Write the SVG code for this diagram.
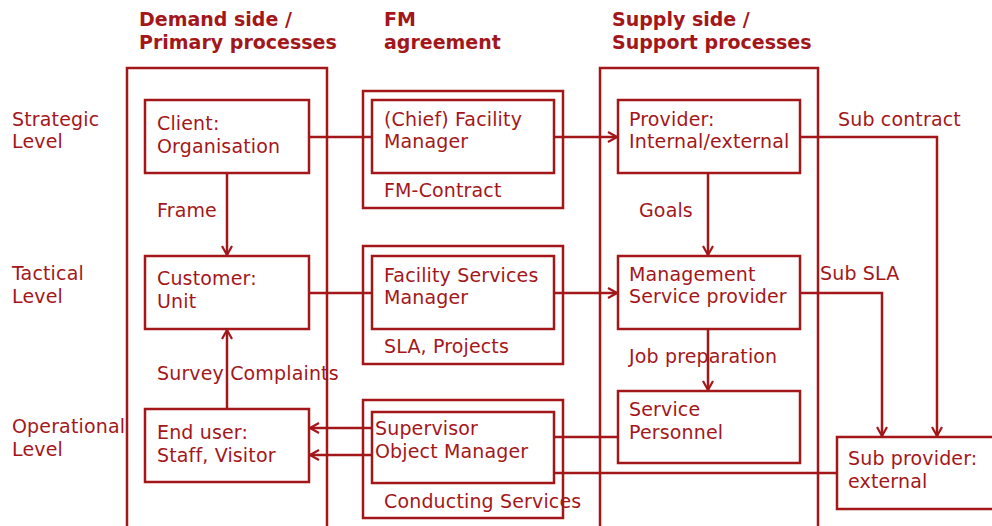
<svg xmlns="http://www.w3.org/2000/svg" width="992" height="526" viewBox="0 0 992 526">
<defs>
<style>
.b{fill:none;stroke:#a3171b;stroke-width:2.5}
.l{fill:none;stroke:#a3171b;stroke-width:2.5}
text{font-family:"DejaVu Sans",Verdana,sans-serif;font-size:19px;letter-spacing:0.15px;fill:#a3171b}
.h{font-weight:bold;font-size:19px;letter-spacing:0px}
</style>
<marker id="a" viewBox="0 0 12 12" refX="11" refY="6" markerWidth="12" markerHeight="12" markerUnits="userSpaceOnUse" orient="auto">
<path d="M2,1 L11,6 L2,11" fill="none" stroke="#a3171b" stroke-width="2.2"/>
</marker>
</defs>
<rect width="992" height="526" fill="#fff"/>
<g id="headers">
<text class="h" x="139" y="26">Demand side /</text>
<text class="h" x="139" y="49">Primary processes</text>
<text class="h" x="384" y="26">FM</text>
<text class="h" x="384" y="49">agreement</text>
<text class="h" x="612" y="26">Supply side /</text>
<text class="h" x="612" y="49">Support processes</text>
</g>
<g id="levels">
<text x="12" y="126">Strategic</text>
<text x="12" y="148">Level</text>
<text x="12" y="280">Tactical</text>
<text x="12" y="303">Level</text>
<text x="12" y="433">Operational</text>
<text x="12" y="456">Level</text>
</g>
<g id="demand-frame"><rect class="b" x="127" y="68" width="200" height="470"/></g>
<g id="supply-frame"><rect class="b" x="600" y="68" width="218" height="470"/></g>
<g id="fm-contract"><rect class="b" x="363" y="91" width="200" height="117"/><text x="384" y="197">FM-Contract</text></g>
<g id="sla-projects"><rect class="b" x="363" y="246" width="200" height="118"/><text x="384" y="353">SLA, Projects</text></g>
<g id="conducting-services"><rect class="b" x="363" y="400" width="200" height="118"/><text x="384" y="508">Conducting Services</text></g>
<g id="client"><rect class="b" x="145" y="100" width="164" height="73"/><text x="157" y="130">Client:</text><text x="157" y="153">Organisation</text></g>
<g id="customer"><rect class="b" x="145" y="256" width="164" height="73"/><text x="157" y="285">Customer:</text><text x="157" y="308">Unit</text></g>
<g id="end-user"><rect class="b" x="145" y="409" width="164" height="73"/><text x="157" y="439">End user:</text><text x="157" y="462">Staff, Visitor</text></g>
<g id="chief-fm"><rect class="b" x="372" y="100" width="182" height="73"/><text x="384" y="126">(Chief) Facility</text><text x="384" y="148">Manager</text></g>
<g id="fs-manager"><rect class="b" x="372" y="256" width="182" height="73"/><text x="384" y="282">Facility Services</text><text x="384" y="304">Manager</text></g>
<g id="supervisor"><rect class="b" x="372" y="412" width="182" height="71"/><text x="375" y="435">Supervisor</text><text x="375" y="458">Object Manager</text></g>
<g id="provider"><rect class="b" x="618" y="100" width="182" height="73"/><text x="629" y="126">Provider:</text><text x="629" y="148">Internal/external</text></g>
<g id="management"><rect class="b" x="618" y="256" width="182" height="73"/><text x="629" y="281">Management</text><text x="629" y="303">Service provider</text></g>
<g id="service-personnel"><rect class="b" x="618" y="391" width="182" height="72"/><text x="629" y="416">Service</text><text x="629" y="439">Personnel</text></g>
<g id="sub-provider"><rect class="b" x="837" y="437" width="170" height="72"/><text x="848" y="465">Sub provider:</text><text x="848" y="488">external</text></g>
<g id="connectors">
<path class="l" d="M309,137 H372"/>
<path class="l" d="M554,137 H617" marker-end="url(#a)"/>
<path class="l" d="M227,173 V255" marker-end="url(#a)"/>
<path class="l" d="M708,173 V255" marker-end="url(#a)"/>
<path class="l" d="M800,137 H937 V436" marker-end="url(#a)"/>
<path class="l" d="M309,293 H372"/>
<path class="l" d="M554,293 H617" marker-end="url(#a)"/>
<path class="l" d="M800,293 H882 V436" marker-end="url(#a)"/>
<path class="l" d="M708,329 V390" marker-end="url(#a)"/>
<path class="l" d="M227,409 V330" marker-end="url(#a)"/>
<path class="l" d="M372,428 H310" marker-end="url(#a)"/>
<path class="l" d="M372,455 H310" marker-end="url(#a)"/>
<path class="l" d="M554,437 H618"/>
<path class="l" d="M554,473 H837"/>
</g>
<g id="labels">
<text x="157" y="217">Frame</text>
<text x="639" y="217">Goals</text>
<text x="838" y="126">Sub contract</text>
<text x="820" y="280">Sub SLA</text>
<text x="629" y="363">Job preparation</text>
<text x="157" y="380">Survey Complaints</text>
</g>
</svg>
